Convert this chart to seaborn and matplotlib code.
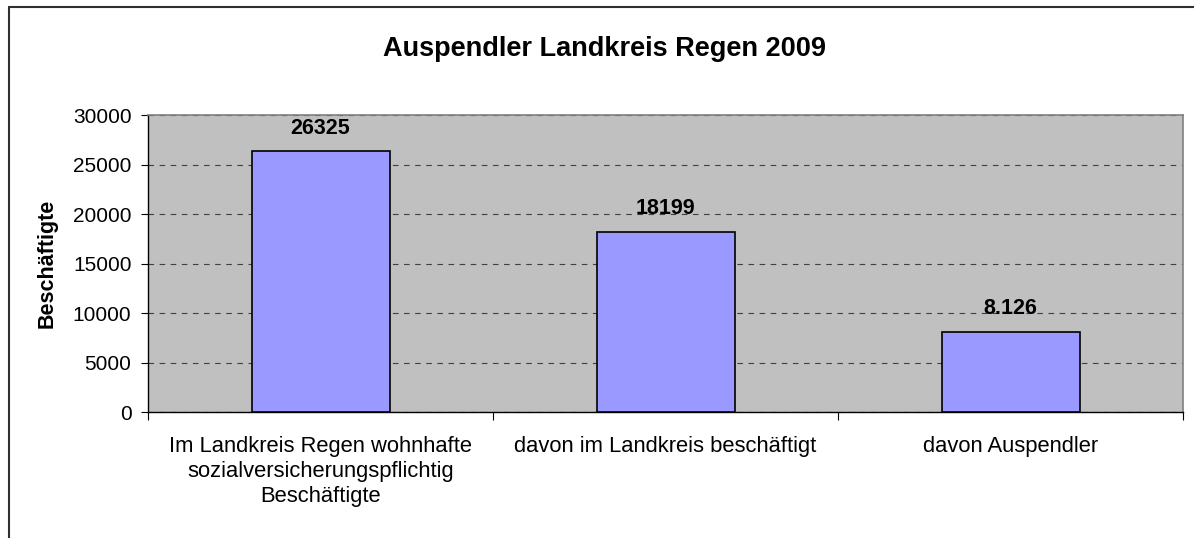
import matplotlib
matplotlib.use("Agg")
import matplotlib.pyplot as plt
import seaborn as sns
import pandas as pd
from matplotlib.lines import Line2D
from matplotlib.ticker import FixedLocator

# =====================================
# DATA
# =====================================

categories = [
    "Im Landkreis Regen wohnhafte\nsozialversicherungspflichtig\nBeschäftigte",
    "davon im Landkreis beschäftigt",
    "davon Auspendler",
]
values = [26325, 18199, 8126]
value_labels = ["26325", "18199", "8.126"]
y_ticks = [0, 5000, 10000, 15000, 20000, 25000, 30000]

df = pd.DataFrame({"cat": categories, "val": values})

# =====================================
# STYLE
# =====================================

sns.set_style("white")
plt.rcParams["font.family"] = ["Liberation Sans", "DejaVu Sans"]
plt.rcParams["text.color"] = "black"
plt.rcParams["xtick.color"] = "black"
plt.rcParams["ytick.color"] = "black"
plt.rcParams["axes.labelcolor"] = "black"

fig = plt.figure(figsize=(11.94, 5.38), dpi=100)
ax = fig.add_axes([0.124, 0.2342, 0.8668, 0.552])
ax.set_facecolor("#C0C0C0")

sns.barplot(
    data=df, x="cat", y="val", color="#9999FF",
    edgecolor="black", linewidth=1.2, width=0.4,
    saturation=1, ax=ax, zorder=3
)

ax.set_xlim(-0.5, 2.5)
ax.set_ylim(0, 30000)
ax.set_yticks(y_ticks)
ax.yaxis.grid(True, linestyle=(0, (5, 5)), color="#404040", linewidth=0.8)
ax.set_axisbelow(True)

ax.tick_params(axis="y", length=5, width=0.8, color="black",
               labelsize=15, pad=7, left=True)
ax.tick_params(axis="x", which="major", length=0, labelsize=15.8, pad=17)
ax.xaxis.set_minor_locator(FixedLocator([-0.5, 0.5, 1.5, 2.5]))
ax.tick_params(axis="x", which="minor", length=6, width=0.8,
               color="black", bottom=True)
for lbl in ax.get_xticklabels():
    lbl.set_linespacing(1.27)

for side in ["left", "bottom"]:
    ax.spines[side].set_color("black")
    ax.spines[side].set_linewidth(1.0)
for side in ["top", "right"]:
    ax.spines[side].set_color("#808080")
    ax.spines[side].set_linewidth(1.2)

ax.set_xlabel("")
ax.set_ylabel("Beschäftigte", fontsize=15.5, fontweight="bold", labelpad=11)

ax.bar_label(ax.containers[0], labels=value_labels, padding=9,
             fontsize=15.5, fontweight="bold")

fig.text(0.506, 0.909, "Auspendler Landkreis Regen 2009",
         ha="center", va="center", fontsize=19.5, fontweight="bold")

# chart border (partly outside the picture)
fig.add_artist(Line2D([0.0075, 1.0], [0.987, 0.987], color="#303030",
                      linewidth=1.5, transform=fig.transFigure))
fig.add_artist(Line2D([0.0075, 0.0075], [0.0, 0.987], color="#303030",
                      linewidth=1.5, transform=fig.transFigure))

fig.savefig("out.png", dpi=100)
